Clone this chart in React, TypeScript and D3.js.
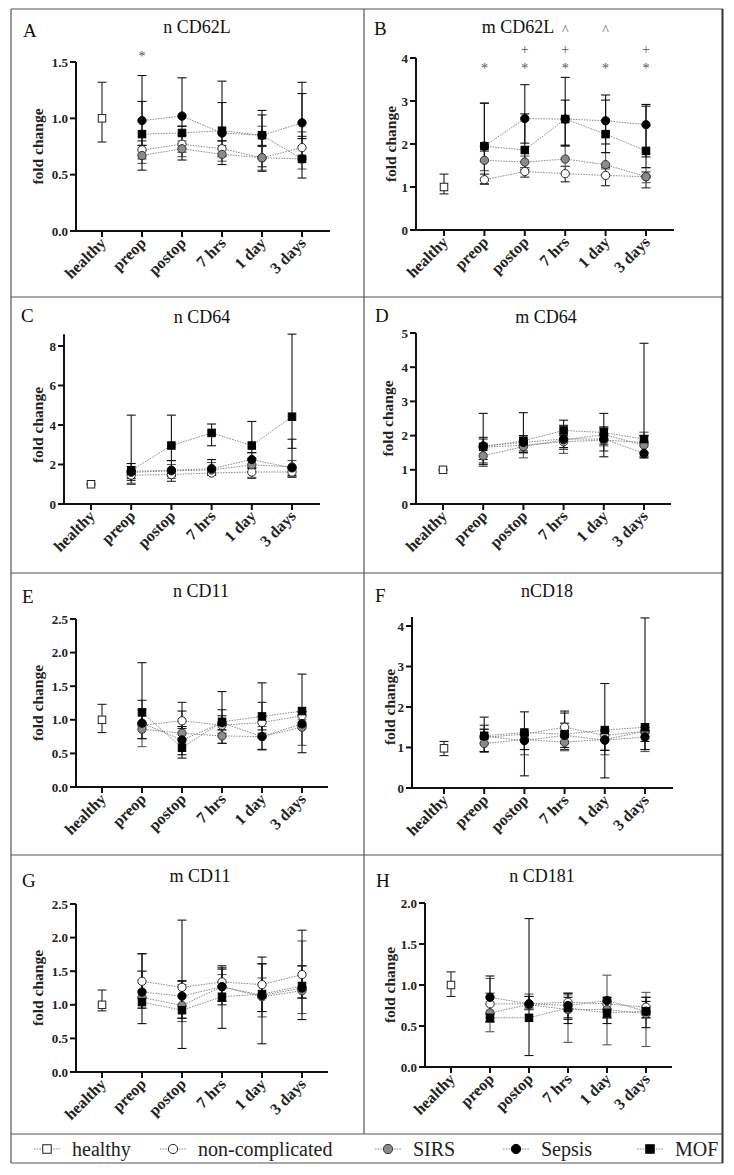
import React from "react";
import * as d3 from "d3";

const categories = ["healthy", "preop", "postop", "7 hrs", "1 day", "3 days"];
const timepoints = categories.slice(1);
const groupNames = ["healthy", "non-complicated", "SIRS", "Sepsis", "MOF"];

// [mean, lower, upper] for the healthy controls
const A_healthy = [1.0, 0.79, 1.32];
const A_nonComp = { mean: [0.72, 0.77, 0.73, 0.65, 0.74], lo: [0.64, 0.7, 0.66, 0.57, 0.66], hi: [0.8, 0.85, 0.8, 0.75, 0.84] };
const A_SIRS = { mean: [0.67, 0.73, 0.68, 0.65, 0.64], lo: [0.6, 0.66, 0.62, 0.54, 0.55], hi: [0.76, 0.8, 0.76, 0.93, 0.88] };
const A_Sepsis = { mean: [0.98, 1.02, 0.87, 0.85, 0.96], lo: [0.76, 0.93, 0.8, 0.76, 0.82], hi: [1.38, 1.36, 1.33, 1.07, 1.32] };
const A_MOF = { mean: [0.86, 0.87, 0.89, 0.85, 0.64], lo: [0.54, 0.63, 0.59, 0.53, 0.47], hi: [1.15, 0.93, 1.14, 1.03, 1.22] };

const B_healthy = [1.0, 0.84, 1.3];
const B_nonComp = { mean: [1.17, 1.36, 1.31, 1.27, 1.24], lo: [1.07, 1.23, 1.12, 1.03, 0.98], hi: [1.3, 1.45, 1.48, 1.45, 1.35] };
const B_SIRS = { mean: [1.62, 1.58, 1.65, 1.52, 1.24], lo: [1.38, 1.45, 1.48, 1.42, 1.1], hi: [1.83, 1.72, 1.97, 1.8, 1.45] };
const B_Sepsis = { mean: [1.95, 2.59, 2.58, 2.54, 2.45], lo: [1.6, 2.02, 1.95, 2.0, 1.7], hi: [2.95, 3.38, 3.55, 3.14, 2.92] };
const B_MOF = { mean: [1.95, 1.86, 2.58, 2.23, 1.84], lo: [1.07, 1.4, 1.97, 1.8, 1.45], hi: [2.95, 2.7, 3.02, 3.02, 2.88] };

const C_healthy = [1.0, 0.97, 1.03];
const C_nonComp = { mean: [1.46, 1.49, 1.57, 1.62, 1.62], lo: [1.0, 1.15, 1.45, 1.3, 1.35], hi: [1.7, 1.65, 1.75, 1.85, 1.8] };
const C_SIRS = { mean: [1.6, 1.68, 1.72, 1.98, 1.88], lo: [1.05, 1.3, 1.5, 1.35, 1.4], hi: [1.9, 2.0, 2.1, 2.3, 2.2] };
const C_Sepsis = { mean: [1.65, 1.71, 1.79, 2.25, 1.83], lo: [1.2, 1.4, 1.5, 1.8, 1.45], hi: [2.05, 2.2, 2.25, 2.6, 3.28] };
const C_MOF = { mean: [1.7, 2.96, 3.6, 2.96, 4.42], lo: [1.3, 2.2, 2.95, 2.6, 2.82], hi: [4.5, 4.5, 4.05, 4.18, 8.6] };

const D_healthy = [1.0, 0.98, 1.02];
const D_nonComp = { mean: [1.66, 1.72, 1.82, 1.87, 1.8], lo: [1.2, 1.5, 1.6, 1.55, 1.4], hi: [1.9, 1.85, 2.0, 2.2, 2.0] };
const D_SIRS = { mean: [1.41, 1.68, 1.87, 2.03, 1.72], lo: [1.1, 1.35, 1.48, 1.7, 1.35], hi: [1.75, 1.9, 2.05, 2.25, 2.1] };
const D_Sepsis = { mean: [1.7, 1.8, 1.9, 1.9, 1.48], lo: [1.15, 1.5, 1.65, 1.38, 1.35], hi: [1.95, 2.67, 2.3, 2.65, 2.0] };
const D_MOF = { mean: [1.67, 1.85, 2.15, 2.09, 1.9], lo: [1.3, 1.55, 1.8, 1.75, 1.5], hi: [2.65, 2.0, 2.45, 2.25, 4.7] };

const E_healthy = [1.0, 0.81, 1.23];
const E_nonComp = { mean: [0.92, 0.985, 0.92, 0.96, 1.06], lo: [0.72, 0.87, 0.8, 0.8, 0.9], hi: [1.29, 1.26, 1.15, 1.26, 1.12] };
const E_SIRS = { mean: [0.86, 0.8, 0.76, 0.75, 0.89], lo: [0.6, 0.72, 0.65, 0.55, 0.62], hi: [0.95, 0.9, 0.85, 0.9, 1.0] };
const E_Sepsis = { mean: [0.95, 0.7, 0.955, 0.75, 0.94], lo: [0.72, 0.48, 0.85, 0.56, 0.51], hi: [1.15, 1.13, 1.06, 1.05, 1.68] };
const E_MOF = { mean: [1.11, 0.585, 0.97, 1.05, 1.13], lo: [0.95, 0.43, 0.65, 0.85, 0.92], hi: [1.85, 0.9, 1.42, 1.55, 1.12] };

const F_healthy = [0.98, 0.8, 1.15];
const F_nonComp = { mean: [1.25, 1.33, 1.5, 1.3, 1.4], lo: [0.9, 0.95, 0.95, 0.93, 0.95], hi: [1.55, 1.4, 1.85, 1.45, 1.5] };
const F_SIRS = { mean: [1.1, 1.2, 1.13, 1.2, 1.4], lo: [0.88, 0.82, 0.92, 0.82, 0.9], hi: [1.45, 1.35, 1.4, 1.4, 1.5] };
const F_Sepsis = { mean: [1.28, 1.17, 1.3, 1.18, 1.26], lo: [1.1, 0.95, 1.1, 0.93, 1.15], hi: [1.45, 1.3, 1.9, 1.4, 1.35] };
const F_MOF = { mean: [1.29, 1.37, 1.33, 1.43, 1.5], lo: [0.9, 0.3, 1.0, 0.25, 0.95], hi: [1.75, 1.88, 1.6, 2.58, 4.2] };

const G_healthy = [1.0, 0.91, 1.22];
const G_nonComp = { mean: [1.35, 1.26, 1.34, 1.3, 1.45], lo: [1.1, 0.8, 1.0, 0.9, 1.1], hi: [1.5, 1.36, 1.53, 1.61, 1.58] };
const G_SIRS = { mean: [1.11, 0.99, 1.27, 1.12, 1.21], lo: [0.95, 0.75, 1.05, 0.82, 0.87], hi: [1.5, 1.3, 1.45, 1.4, 1.95] };
const G_Sepsis = { mean: [1.19, 1.13, 1.27, 1.14, 1.25], lo: [0.95, 0.8, 1.05, 0.9, 0.78], hi: [1.76, 1.35, 1.58, 1.71, 2.11] };
const G_MOF = { mean: [1.04, 0.92, 1.12, 1.16, 1.28], lo: [0.72, 0.35, 0.65, 0.42, 1.1], hi: [1.76, 2.26, 1.55, 1.61, 1.58] };

const H_healthy = [1.0, 0.86, 1.16];
const H_nonComp = { mean: [0.77, 0.77, 0.79, 0.77, 0.73], lo: [0.6, 0.7, 0.58, 0.6, 0.6], hi: [0.9, 0.86, 0.9, 0.85, 0.85] };
const H_SIRS = { mean: [0.66, 0.76, 0.7, 0.7, 0.65], lo: [0.43, 0.7, 0.3, 0.27, 0.25], hi: [1.08, 0.89, 0.88, 1.12, 0.91] };
const H_Sepsis = { mean: [0.85, 0.77, 0.75, 0.81, 0.68], lo: [0.55, 0.72, 0.53, 0.53, 0.48], hi: [1.11, 0.86, 0.9, 0.85, 0.85] };
const H_MOF = { mean: [0.6, 0.6, 0.72, 0.66, 0.68], lo: [0.55, 0.14, 0.6, 0.6, 0.6], hi: [0.65, 1.81, 0.85, 0.8, 0.8] };

const titles = ["n CD62L", "m CD62L", "n CD64", "m CD64", "n CD11", "nCD18", "m CD11", "n CD181"];
const letters = ["A", "B", "C", "D", "E", "F", "G", "H"];
const yTicksList = [
  [0, 0.5, 1, 1.5],
  [0, 1, 2, 3, 4],
  [0, 2, 4, 6, 8],
  [0, 1, 2, 3, 4, 5],
  [0, 0.5, 1, 1.5, 2, 2.5],
  [0, 1, 2, 3, 4],
  [0, 0.5, 1, 1.5, 2, 2.5],
  [0, 0.5, 1, 1.5, 2],
];
const axisMax = [1.5, 4, 8.6, 5, 2.5, 4.22, 2.5, 2];

// significance marks: panel index, timepoint, symbol, level (0 lowest)
const sigPanel = [0, 1, 1, 1, 1, 1, 1, 1, 1, 1, 1];
const sigCat = ["preop", "preop", "postop", "7 hrs", "1 day", "3 days", "postop", "7 hrs", "3 days", "7 hrs", "1 day"];
const sigSym = ["*", "*", "*", "*", "*", "*", "+", "+", "+", "^", "^"];
const sigLevel = [0, 0, 0, 0, 0, 0, 1, 1, 1, 2, 2];

const panelData = [
  { healthy: A_healthy, groups: [A_nonComp, A_SIRS, A_Sepsis, A_MOF] },
  { healthy: B_healthy, groups: [B_nonComp, B_SIRS, B_Sepsis, B_MOF] },
  { healthy: C_healthy, groups: [C_nonComp, C_SIRS, C_Sepsis, C_MOF] },
  { healthy: D_healthy, groups: [D_nonComp, D_SIRS, D_Sepsis, D_MOF] },
  { healthy: E_healthy, groups: [E_nonComp, E_SIRS, E_Sepsis, E_MOF] },
  { healthy: F_healthy, groups: [F_nonComp, F_SIRS, F_Sepsis, F_MOF] },
  { healthy: G_healthy, groups: [G_nonComp, G_SIRS, G_Sepsis, G_MOF] },
  { healthy: H_healthy, groups: [H_nonComp, H_SIRS, H_Sepsis, H_MOF] },
];

// layout (pixels)
const layouts = [
  { ax: 76, x0: 102, x5: 302, xEnd: 330, y0: 231, yTop: 62, labelX: 38, titleX: 197, titleY: 33, letterX: 23, letterY: 37, sigY: 61 },
  { ax: 416, x0: 444, x5: 646, xEnd: 674, y0: 230, yTop: 58, labelX: 391, titleX: 518, titleY: 33, letterX: 374, letterY: 35, sigY: 73 },
  { ax: 64, x0: 91, x5: 292, xEnd: 320, y0: 504, yTop: 346, labelX: 38, titleX: 202, titleY: 323, letterX: 21, letterY: 322, sigY: 0 },
  { ax: 416, x0: 443, x5: 644, xEnd: 671, y0: 504, yTop: 333, labelX: 388, titleX: 546, titleY: 323, letterX: 375, letterY: 322, sigY: 0 },
  { ax: 76, x0: 102, x5: 302, xEnd: 328, y0: 787, yTop: 619, labelX: 38, titleX: 201, titleY: 597, letterX: 22, letterY: 603, sigY: 0 },
  { ax: 412, x0: 444, x5: 645, xEnd: 673, y0: 788, yTop: 626, labelX: 390, titleX: 547, titleY: 597, letterX: 375, letterY: 602, sigY: 0 },
  { ax: 76, x0: 102, x5: 302, xEnd: 328, y0: 1072, yTop: 904, labelX: 38, titleX: 200, titleY: 882, letterX: 22, letterY: 887, sigY: 0 },
  { ax: 425, x0: 451, x5: 646, xEnd: 672, y0: 1067, yTop: 903, labelX: 390, titleX: 542, titleY: 882, letterX: 376, letterY: 887, sigY: 0 },
];

const groupStyle = [
  { shape: "square", fill: "#fff", stroke: "#222", err: "#222" },
  { shape: "circle", fill: "#fff", stroke: "#222", err: "#222" },
  { shape: "circle", fill: "#8a8a8a", stroke: "#333", err: "#555" },
  { shape: "circle", fill: "#000", stroke: "#000", err: "#111" },
  { shape: "square", fill: "#000", stroke: "#000", err: "#111" },
];

const FONT = "'Liberation Serif', 'Times New Roman', serif";

function Marker({ cx, cy, style, size }: any) {
  if (style.shape === "square") {
    return <rect x={cx - size / 2} y={cy - size / 2} width={size} height={size} fill={style.fill} stroke={style.stroke} strokeWidth={1} />;
  }
  return <circle cx={cx} cy={cy} r={size / 2 + 0.4} fill={style.fill} stroke={style.stroke} strokeWidth={1} />;
}

function ErrBar({ x, yLo, yHi, color }: any) {
  const cw = 4.5;
  return (
    <g stroke={color} strokeWidth={1.1} fill="none">
      <line x1={x} x2={x} y1={yLo} y2={yHi} />
      <line x1={x - cw} x2={x + cw} y1={yHi} y2={yHi} />
      <line x1={x - cw} x2={x + cw} y1={yLo} y2={yLo} />
    </g>
  );
}

function Panel({ idx }: { idx: number }) {
  const L = layouts[idx];
  const d = panelData[idx];
  const ticks = yTicksList[idx];
  const topTick = ticks[ticks.length - 1];
  const x = d3.scalePoint<string>().domain(categories).range([L.x0, L.x5]);
  const y = d3.scaleLinear().domain([0, topTick]).range([L.y0, L.yTop]);
  const fmt = ticks.some((t) => t % 1 !== 0) ? d3.format(".1f") : d3.format("d");
  const line = d3
    .line<number>()
    .x((_, i) => x(timepoints[i]) as number)
    .y((v) => y(v));
  const order = [0, 1, 2, 3];
  const sigs = sigPanel.map((p, i) => i).filter((i) => sigPanel[i] === idx);
  return (
    <g>
      <text x={L.letterX} y={L.letterY} fontFamily={FONT} fontSize={19} fill="#111">{letters[idx]}</text>
      <text x={L.titleX} y={L.titleY} fontFamily={FONT} fontSize={18} textAnchor="middle" fill="#111">{titles[idx]}</text>
      {order.map((g) => (
        <path key={"l" + g} d={line(d.groups[g].mean) as string} fill="none" stroke="#7a7a7a" strokeWidth={0.9} strokeDasharray="1.5,1.2" />
      ))}
      <ErrBar x={x("healthy")} yLo={y(d.healthy[1])} yHi={y(d.healthy[2])} color={groupStyle[0].err} />
      {order.map((g) =>
        timepoints.map((t, i) => (
          <ErrBar key={"e" + g + t} x={x(t)} yLo={y(d.groups[g].lo[i])} yHi={y(d.groups[g].hi[i])} color={groupStyle[g + 1].err} />
        ))
      )}
      <Marker cx={x("healthy")} cy={y(d.healthy[0])} style={groupStyle[0]} size={7.5} />
      {order.map((g) =>
        timepoints.map((t, i) => (
          <Marker key={"m" + g + t} cx={x(t) as number} cy={y(d.groups[g].mean[i])} style={groupStyle[g + 1]} size={7.5} />
        ))
      )}
      <g stroke="#111" strokeWidth={2} fill="none">
        <line x1={L.ax} x2={L.ax} y1={L.y0 + 1} y2={y(axisMax[idx])} />
        <line x1={L.ax - 1} x2={L.xEnd} y1={L.y0} y2={L.y0} />
        {ticks.map((t) => (
          <line key={"yt" + t} x1={L.ax - 6} x2={L.ax} y1={y(t)} y2={y(t)} />
        ))}
        {categories.map((c) => (
          <line key={"xt" + c} x1={x(c)} x2={x(c)} y1={L.y0} y2={L.y0 + 6} />
        ))}
      </g>
      {ticks.map((t) => (
        <text key={"yl" + t} x={L.ax - 8} y={y(t)} dy="0.35em" textAnchor="end" fontFamily={FONT} fontWeight="bold" fontSize={13} fill="#222">
          {fmt(t)}
        </text>
      ))}
      {categories.map((c) => (
        <text key={"xl" + c} transform={`translate(${(x(c) as number) + 5},${L.y0 + 13}) rotate(-45)`} textAnchor="end" fontFamily={FONT} fontWeight="bold" fontSize={16} fill="#222">
          {c}
        </text>
      ))}
      <text transform={`translate(${L.labelX},${(L.y0 + y(topTick)) / 2}) rotate(-90)`} textAnchor="middle" dy="0.35em" fontFamily={FONT} fontWeight="bold" fontSize={15.5} fill="#222">
        fold change
      </text>
      {sigs.map((i) => (
        <text key={"s" + i} x={x(sigCat[i])} y={L.sigY - sigLevel[i] * 19} textAnchor="middle" fontFamily={FONT} fontSize={14} fill="#555">
          {sigSym[i]}
        </text>
      ))}
    </g>
  );
}

const legendX = [47, 173, 388, 516, 650];

export default function App() {
  return (
    <div style={{ position: "absolute", left: 0, top: 0 }}>
      <svg width={734} height={1175} style={{ display: "block", background: "#fff" }}>
        <rect x={0} y={0} width={734} height={1175} fill="#fff" />
        <g stroke="#555" strokeWidth={1.2} fill="none">
          <line x1={11} x2={723} y1={9} y2={9} />
          <line x1={11} x2={723} y1={297} y2={297} />
          <line x1={11} x2={723} y1={573} y2={573} />
          <line x1={11} x2={723} y1={855} y2={855} />
          <line x1={11} x2={723} y1={1134} y2={1134} />
          <line x1={11} x2={11} y1={9} y2={1163} />
          <line x1={364} x2={364} y1={9} y2={1134} />
          <line x1={11} x2={723} y1={1163} y2={1163} />
        </g>
        <line x1={722.5} x2={722.5} y1={9} y2={1163} stroke="#333" strokeWidth={2} />
        {layouts.map((_, i) => (
          <Panel key={i} idx={i} />
        ))}
        {groupNames.map((n, i) => (
          <g key={n}>
            <line x1={legendX[i] - 13} x2={legendX[i] + 13} y1={1149} y2={1149} stroke="#777" strokeWidth={0.9} strokeDasharray="1.5,1.2" />
            <Marker cx={legendX[i]} cy={1149} style={groupStyle[i]} size={8.5} />
            <text x={legendX[i] + 25} y={1155.5} fontFamily={FONT} fontSize={20} fill="#222">
              {n}
            </text>
          </g>
        ))}
      </svg>
    </div>
  );
}
